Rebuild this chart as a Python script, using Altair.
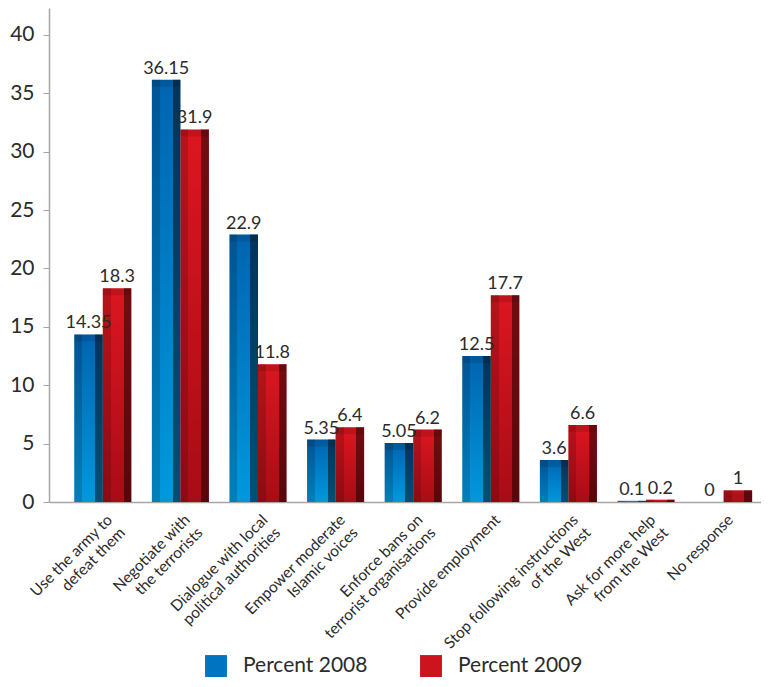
import altair as alt
import pandas as pd

categories = [
    "Use the army to\ndefeat them",
    "Negotiate with\nthe terrorists",
    "Dialogue with local\npolitical authorities",
    "Empower moderate\nIslamic voices",
    "Enforce bans on\nterrorist organisations",
    "Provide employment",
    "Stop following instructions\nof the West",
    "Ask for more help\nfrom the West",
    "No response",
]
series = ["Percent 2008", "Percent 2009"]
values_2008 = [14.35, 36.15, 22.9, 5.35, 5.05, 12.5, 3.6, 0.1, 0]
values_2009 = [18.3, 31.9, 11.8, 6.4, 6.2, 17.7, 6.6, 0.2, 1]
y_ticks = [0, 5, 10, 15, 20, 25, 30, 35, 40]

rows = []
for c, a, b in zip(categories, values_2008, values_2009):
    rows.append({"category": c, "series": series[0], "value": a, "label": f"{a:g}"})
    rows.append({"category": c, "series": series[1], "value": b, "label": f"{b:g}"})
df = pd.DataFrame(rows)

FONT = "Lato"
TEXT = "#2b2b2b"
AXIS = "#a6a6a6"

x_enc = alt.X(
    "category:N",
    sort=categories,
    scale=alt.Scale(paddingInner=0.265, paddingOuter=0.22, align=0.74),
    axis=alt.Axis(
        title=None, ticks=False, domainColor=AXIS, domainWidth=1.5,
        labelAngle=-45, labelAlign="right", labelBaseline="top",
        labelPadding=10, labelOffset=2, labelFont=FONT, labelFontSize=15.5,
        labelColor=TEXT, labelLineHeight=18, labelLimit=400,
        labelExpr="split(datum.label, '\\n')",
    ),
)
xo_enc = alt.XOffset("series:N", sort=series, scale=alt.Scale(paddingInner=0, paddingOuter=0))
y_enc = alt.Y(
    "value:Q",
    scale=alt.Scale(domain=[0, 42.3], nice=False, zero=True),
    axis=alt.Axis(
        title=None, values=y_ticks, grid=False, domainColor=AXIS, domainWidth=1.5,
        tickColor=AXIS, tickSize=6, labelPadding=9, labelFont=FONT,
        labelFontSize=21, labelColor=TEXT,
    ),
)

base = alt.Chart(df)


def vgrad(top, bottom):
    return alt.Gradient(
        gradient="linear", x1=0, x2=0, y1=0, y2=1,
        stops=[alt.GradientStop(color=top, offset=0), alt.GradientStop(color=bottom, offset=1)],
    )


legend_layer = base.mark_bar(strokeWidth=0).encode(
    x=x_enc, xOffset=xo_enc,
    y=alt.YDatum(0, type="quantitative"),
    color=alt.Color(
        "series:N", sort=series,
        scale=alt.Scale(domain=series, range=["#0074c0", "#cc141e"]),
        legend=alt.Legend(
            title=None, orient="none", legendX=156, legendY=647, direction="horizontal",
            symbolType="square", symbolSize=480, symbolStrokeWidth=0, symbolOpacity=1,
            labelFont=FONT, labelFontSize=21, labelColor=TEXT, labelOffset=16,
            columnPadding=52, padding=0,
        ),
    ),
)

blue_layer = base.transform_filter(alt.datum.series == series[0]).mark_bar(
    color=vgrad("#0064b0", "#0098dc")
).encode(x=x_enc, xOffset=xo_enc, y=y_enc)

red_layer = base.transform_filter(alt.datum.series == series[1]).mark_bar(
    color=vgrad("#dc1620", "#a80c16")
).encode(x=x_enc, xOffset=xo_enc, y=y_enc)

bevel = alt.Gradient(
    gradient="linear", x1=0, x2=1, y1=0, y2=0,
    stops=[
        alt.GradientStop(color="rgba(0,0,0,0.16)", offset=0),
        alt.GradientStop(color="rgba(0,0,0,0.16)", offset=0.28),
        alt.GradientStop(color="rgba(0,0,0,0)", offset=0.2801),
        alt.GradientStop(color="rgba(0,0,0,0)", offset=0.73),
        alt.GradientStop(color="rgba(0,0,0,0.48)", offset=0.7301),
        alt.GradientStop(color="rgba(0,0,0,0.48)", offset=1),
    ],
)
bevel_layer = base.mark_bar(color=bevel).encode(x=x_enc, xOffset=xo_enc, y=y_enc)

top_layer = base.transform_filter(alt.datum.value >= 1).mark_tick(
    size=28, thickness=7, yOffset=3.5, color="rgba(0,0,0,0.16)"
).encode(x=x_enc, xOffset=xo_enc, y=y_enc)

text_layer = base.mark_text(
    baseline="alphabetic", dy=-6, font=FONT, fontSize=18, color=TEXT
).encode(x=x_enc, xOffset=xo_enc, y=y_enc, text="label:N")

chart = alt.layer(
    legend_layer, blue_layer, red_layer, bevel_layer, top_layer, text_layer
).properties(
    width=712, height=494,
    autosize=alt.AutoSizeParams(type="none"),
    padding={"left": 41, "top": 0, "right": 0, "bottom": 176},
).configure_view(stroke=None)

chart.save("out.html", embed_options={"renderer": "svg", "actions": False})
